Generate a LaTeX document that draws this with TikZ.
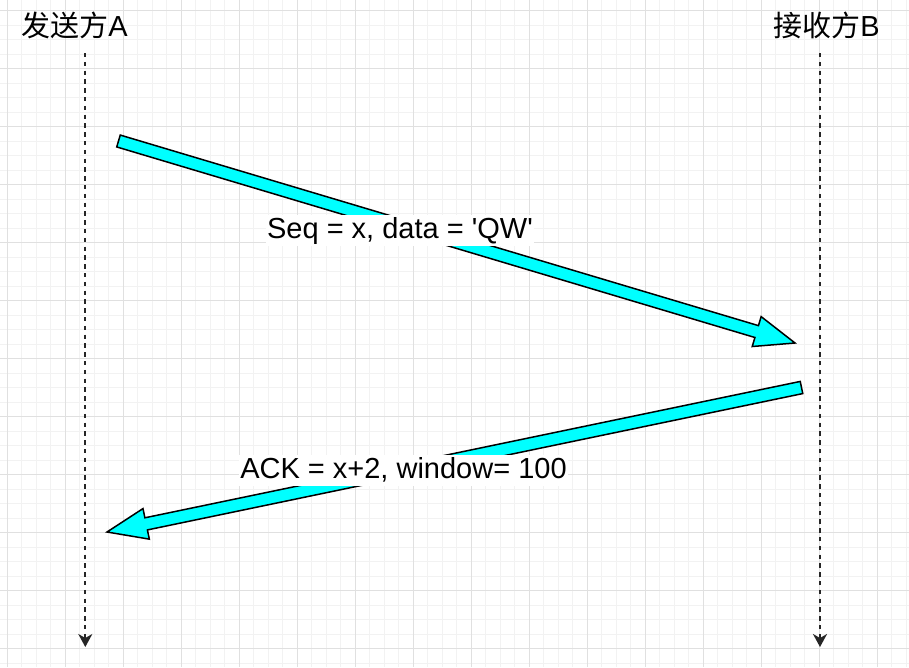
\documentclass[tikz,border=0pt]{standalone}
\usepackage{fontspec}
\setmainfont{Liberation Sans}
\newfontfamily\cjk{Noto Sans CJK SC}
\usetikzlibrary{calc,arrows.meta}
\definecolor{aqua}{RGB}{0,255,255}
\tikzset{
  gridminor/.style={draw=black!5, line width=0.9pt},
  gridmajor/.style={draw=black!12, line width=0.9pt},
  lifeline/.style={draw=black!85, line width=2pt, dash pattern=on 4.4pt off 4.4pt,
    -{Stealth[length=13pt,width=14pt,inset=4pt]}},
  titletext/.style={font=\fontsize{29}{34}\selectfont, inner sep=0pt, anchor=base},
  msglabel/.style={font=\fontsize{29}{34}\selectfont, fill=white, inner xsep=1pt,
    inner ysep=1pt, text height=22pt, text depth=7pt, anchor=base},
  flexarrow/.style={draw=black, fill=aqua, line width=1.5pt, line join=miter},
}
\newcommand\fatarrow[2]{%
  \coordinate (#1-h) at ($(#2)!40pt!(#1)$);
  \path[flexarrow] ($(#1)!6.2pt!90:(#2)$) -- ($(#1-h)!6.2pt!90:(#2)$)
    -- ($(#1-h)!15.6pt!90:(#2)$) -- (#2) -- ($(#1-h)!15.6pt!-90:(#2)$)
    -- ($(#1-h)!6.2pt!-90:(#2)$) -- ($(#1)!6.2pt!-90:(#2)$) -- cycle;
}
\begin{document}
\begin{tikzpicture}[x=1pt,y=-1pt]
  \useasboundingbox (0,0) rectangle (909,667);
  \fill[white] (0,0) rectangle (909,667);
  % grid
  \foreach \i in {0,...,62} \draw[gridminor] ({7.3+14.5*\i},0) -- ++(0,667);
  \foreach \i in {-1,...,45} \draw[gridminor] (0,{10.7+14.5*\i}) -- ++(909,0);
  \foreach \i in {0,...,15} \draw[gridmajor] ({7.3+58*\i},0) -- ++(0,667);
  \foreach \i in {0,...,11} \draw[gridmajor] (0,{10.7+58*\i}) -- ++(909,0);
  % titles
  \node[titletext] (ta) at (74.5,36) {{\cjk 发送方}A};
  \node[titletext] (tb) at (826.5,36) {{\cjk 接收方}B};
  % lifelines
  \coordinate (la1) at (85.3,53);
  \coordinate (la2) at (85.3,647);
  \coordinate (lb1) at (820,53);
  \coordinate (lb2) at (820,647);
  \draw[lifeline] (la1) -- (la2);
  \draw[lifeline] (lb1) -- (lb2);
  % messages
  \coordinate (m1s) at (118.5,141);
  \coordinate (m1e) at (795,343);
  \fatarrow{m1s}{m1e}
  \coordinate (m2s) at (801.5,387.5);
  \coordinate (m2e) at (107,532);
  \fatarrow{m2s}{m2e}
  \node[msglabel] (l1) at (400,238) {Seq = x, data = \textquotesingle QW\textquotesingle};
  \node[msglabel] (l2) at (403.5,478) {ACK = x+2, window= 100};
\end{tikzpicture}
\end{document}
